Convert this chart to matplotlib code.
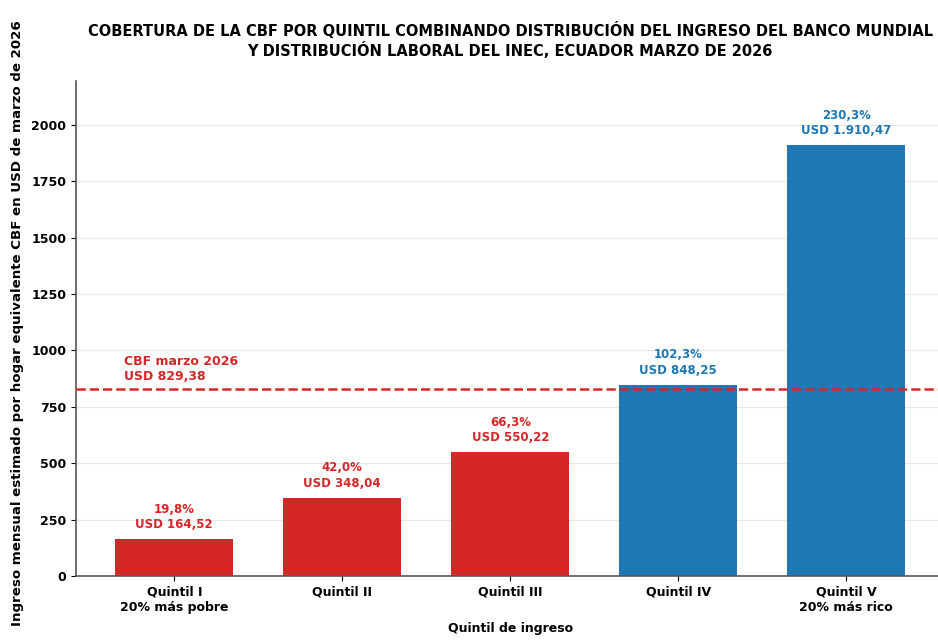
"""Cobertura de la CBF por quintil."""
import matplotlib
matplotlib.use('Agg')
import matplotlib.pyplot as plt

quintiles = ['Quintil I\n20% más pobre', 'Quintil II', 'Quintil III', 'Quintil IV', 'Quintil V\n20% más rico']
ingresos = [164.52, 348.04, 550.22, 848.25, 1910.47]
coberturas = ['19,8%', '42,0%', '66,3%', '102,3%', '230,3%']
usd_labels = ['USD 164,52', 'USD 348,04', 'USD 550,22', 'USD 848,25', 'USD 1.910,47']
cbf = 829.38
cbf_label = 'CBF marzo 2026\nUSD 829,38'

RED = '#d62728'
BLUE = '#1f77b4'
colors = [RED if v < cbf else BLUE for v in ingresos]

fig = plt.figure(figsize=(9.38, 6.41), dpi=100)
ax = fig.add_axes([0.081, 0.1014, 0.926, 0.773])
x = list(range(len(quintiles)))
ax.bar(x, ingresos, width=0.7, color=colors, zorder=2)
ax.axhline(cbf, color=RED, linestyle='--', linewidth=1.8, zorder=3)
ax.text(-0.3, cbf + 28, cbf_label, color=RED, fontsize=9, fontweight='bold', ha='left', va='bottom')

for xi, v, c, u, col in zip(x, ingresos, coberturas, usd_labels, colors):
    ax.text(xi, v + 35, f'{c}\n{u}', color=col, fontsize=8.5, fontweight='bold',
            ha='center', va='bottom', linespacing=1.25)

ax.set_ylim(0, max(ingresos) * 1.15)
ax.set_xticks(x)
ax.set_xticklabels(quintiles, fontsize=9, fontweight='bold')
for lab in ax.get_yticklabels():
    lab.set_fontweight('bold')
ax.tick_params(axis='y', labelsize=9)
ax.set_xlabel('Quintil de ingreso', fontsize=9, fontweight='bold', labelpad=6)
ax.set_ylabel('Ingreso mensual estimado por hogar equivalente CBF en USD de marzo de 2026',
              fontsize=9.6, fontweight='bold')
ax.yaxis.set_label_coords(-0.06, 0.51)
ax.set_title('COBERTURA DE LA CBF POR QUINTIL COMBINANDO DISTRIBUCIÓN DEL INGRESO DEL BANCO MUNDIAL\n'
             'Y DISTRIBUCIÓN LABORAL DEL INEC, ECUADOR MARZO DE 2026',
             fontsize=10.5, fontweight='bold', pad=18)
ax.grid(axis='y', alpha=0.3, zorder=0)
ax.spines['top'].set_visible(False)
ax.spines['right'].set_visible(False)
for s in ['left', 'bottom']:
    ax.spines[s].set_color('#555555')
    ax.spines[s].set_linewidth(1.2)

fig.savefig('out.png', dpi=100)
